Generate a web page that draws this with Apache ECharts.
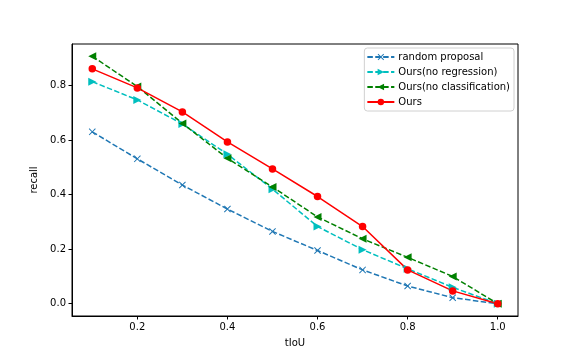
<!DOCTYPE html>
<html>
<head>
<meta charset="utf-8">
<script src="https://cdn.jsdelivr.net/npm/echarts@6/dist/echarts.min.js"></script>
<style>
  html, body { margin: 0; padding: 0; background: #fff; }
  #chart { width: 576px; height: 360px; }
</style>
</head>
<body>
<div id="chart"></div>
<script>
const tiou = [0.1, 0.2, 0.3, 0.4, 0.5, 0.6, 0.7, 0.8, 0.9, 1.0];
const randomProposal = [0.630, 0.531, 0.435, 0.347, 0.265, 0.195, 0.124, 0.065, 0.022, 0.0];
const noRegression = [0.814, 0.747, 0.659, 0.548, 0.420, 0.283, 0.198, 0.128, 0.060, 0.0];
const noClassification = [0.907, 0.796, 0.661, 0.533, 0.428, 0.318, 0.238, 0.170, 0.100, 0.0];
const ours = [0.861, 0.791, 0.703, 0.593, 0.494, 0.393, 0.283, 0.124, 0.047, 0.0];
const xTicks = [0.2, 0.4, 0.6, 0.8, 1.0];
const yTicks = [0.0, 0.2, 0.4, 0.6, 0.8];

const font = "DejaVu Sans";
const crossPath = "path://M0,1L1,0L5,4L9,0L10,1L6,5L10,9L9,10L5,6L1,10L0,9L4,5Z";

const pair = vals => tiou.map((x, i) => [x, vals[i]]);

const makeSeries = (name, vals, color, dashed, symbol, rotate, size) => ({
	name,
	type: "line",
	data: pair(vals),
	symbol,
	symbolSize: size,
	symbolRotate: rotate,
	showAllSymbol: true,
	lineStyle: { color, width: 1.5, type: dashed ? [5.5, 2.4] : "solid" },
	itemStyle: { color, borderWidth: 0 },
	emphasis: { disabled: true },
	animation: false
});

const chart = echarts.init(document.getElementById("chart"));
chart.setOption({
	animation: false,
	textStyle: { fontFamily: font },
	grid: {
		left: 72, right: 58, top: 44, bottom: 44,
		show: true, borderColor: "#000", borderWidth: 1, backgroundColor: "transparent"
	},
	legend: {
		orient: "vertical",
		top: 48,
		right: 62,
		itemWidth: 27,
		itemHeight: 8,
		itemGap: 3,
		padding: [3, 4, 3, 2],
		borderColor: "#d0d0d0",
		borderWidth: 1,
		borderRadius: 3,
		backgroundColor: "#fff",
		textStyle: { fontFamily: font, fontSize: 10, lineHeight: 12, color: "#000", padding: [0, 0, 0, -1] },
		data: ["random proposal", "Ours(no regression)", "Ours(no classification)", "Ours"]
	},
	xAxis: {
		type: "value",
		min: 0.055,
		max: 1.045,
		name: "tIoU",
		nameLocation: "middle",
		nameGap: 22,
		nameTextStyle: { fontFamily: font, fontSize: 10, color: "#000" },
		axisLine: { show: true, onZero: false, lineStyle: { color: "#000" } },
		axisTick: { show: true, length: 3.5, customValues: xTicks, lineStyle: { color: "#000" } },
		axisLabel: {
			customValues: xTicks, fontFamily: font, fontSize: 10, color: "#000", margin: 6,
			formatter: v => v.toFixed(1)
		},
		splitLine: { show: false }
	},
	yAxis: {
		type: "value",
		min: -0.045,
		max: 0.952,
		name: "recall",
		nameLocation: "middle",
		nameGap: 27,
		nameTextStyle: { fontFamily: font, fontSize: 10, color: "#000" },
		axisLine: { show: true, onZero: false, lineStyle: { color: "#000" } },
		axisTick: { show: true, length: 3.5, customValues: yTicks, lineStyle: { color: "#000" } },
		axisLabel: {
			customValues: yTicks, fontFamily: font, fontSize: 10, color: "#000", margin: 6,
			formatter: v => v.toFixed(1)
		},
		splitLine: { show: false }
	},
	series: [
		makeSeries("random proposal", randomProposal, "#1f77b4", true, crossPath, 0, 7),
		makeSeries("Ours(no regression)", noRegression, "#00bfbf", true, "triangle", -90, 8),
		makeSeries("Ours(no classification)", noClassification, "#008000", true, "triangle", 90, 8),
		makeSeries("Ours", ours, "#ff0000", false, "circle", 0, 7.5)
	]
});
</script>
</body>
</html>
